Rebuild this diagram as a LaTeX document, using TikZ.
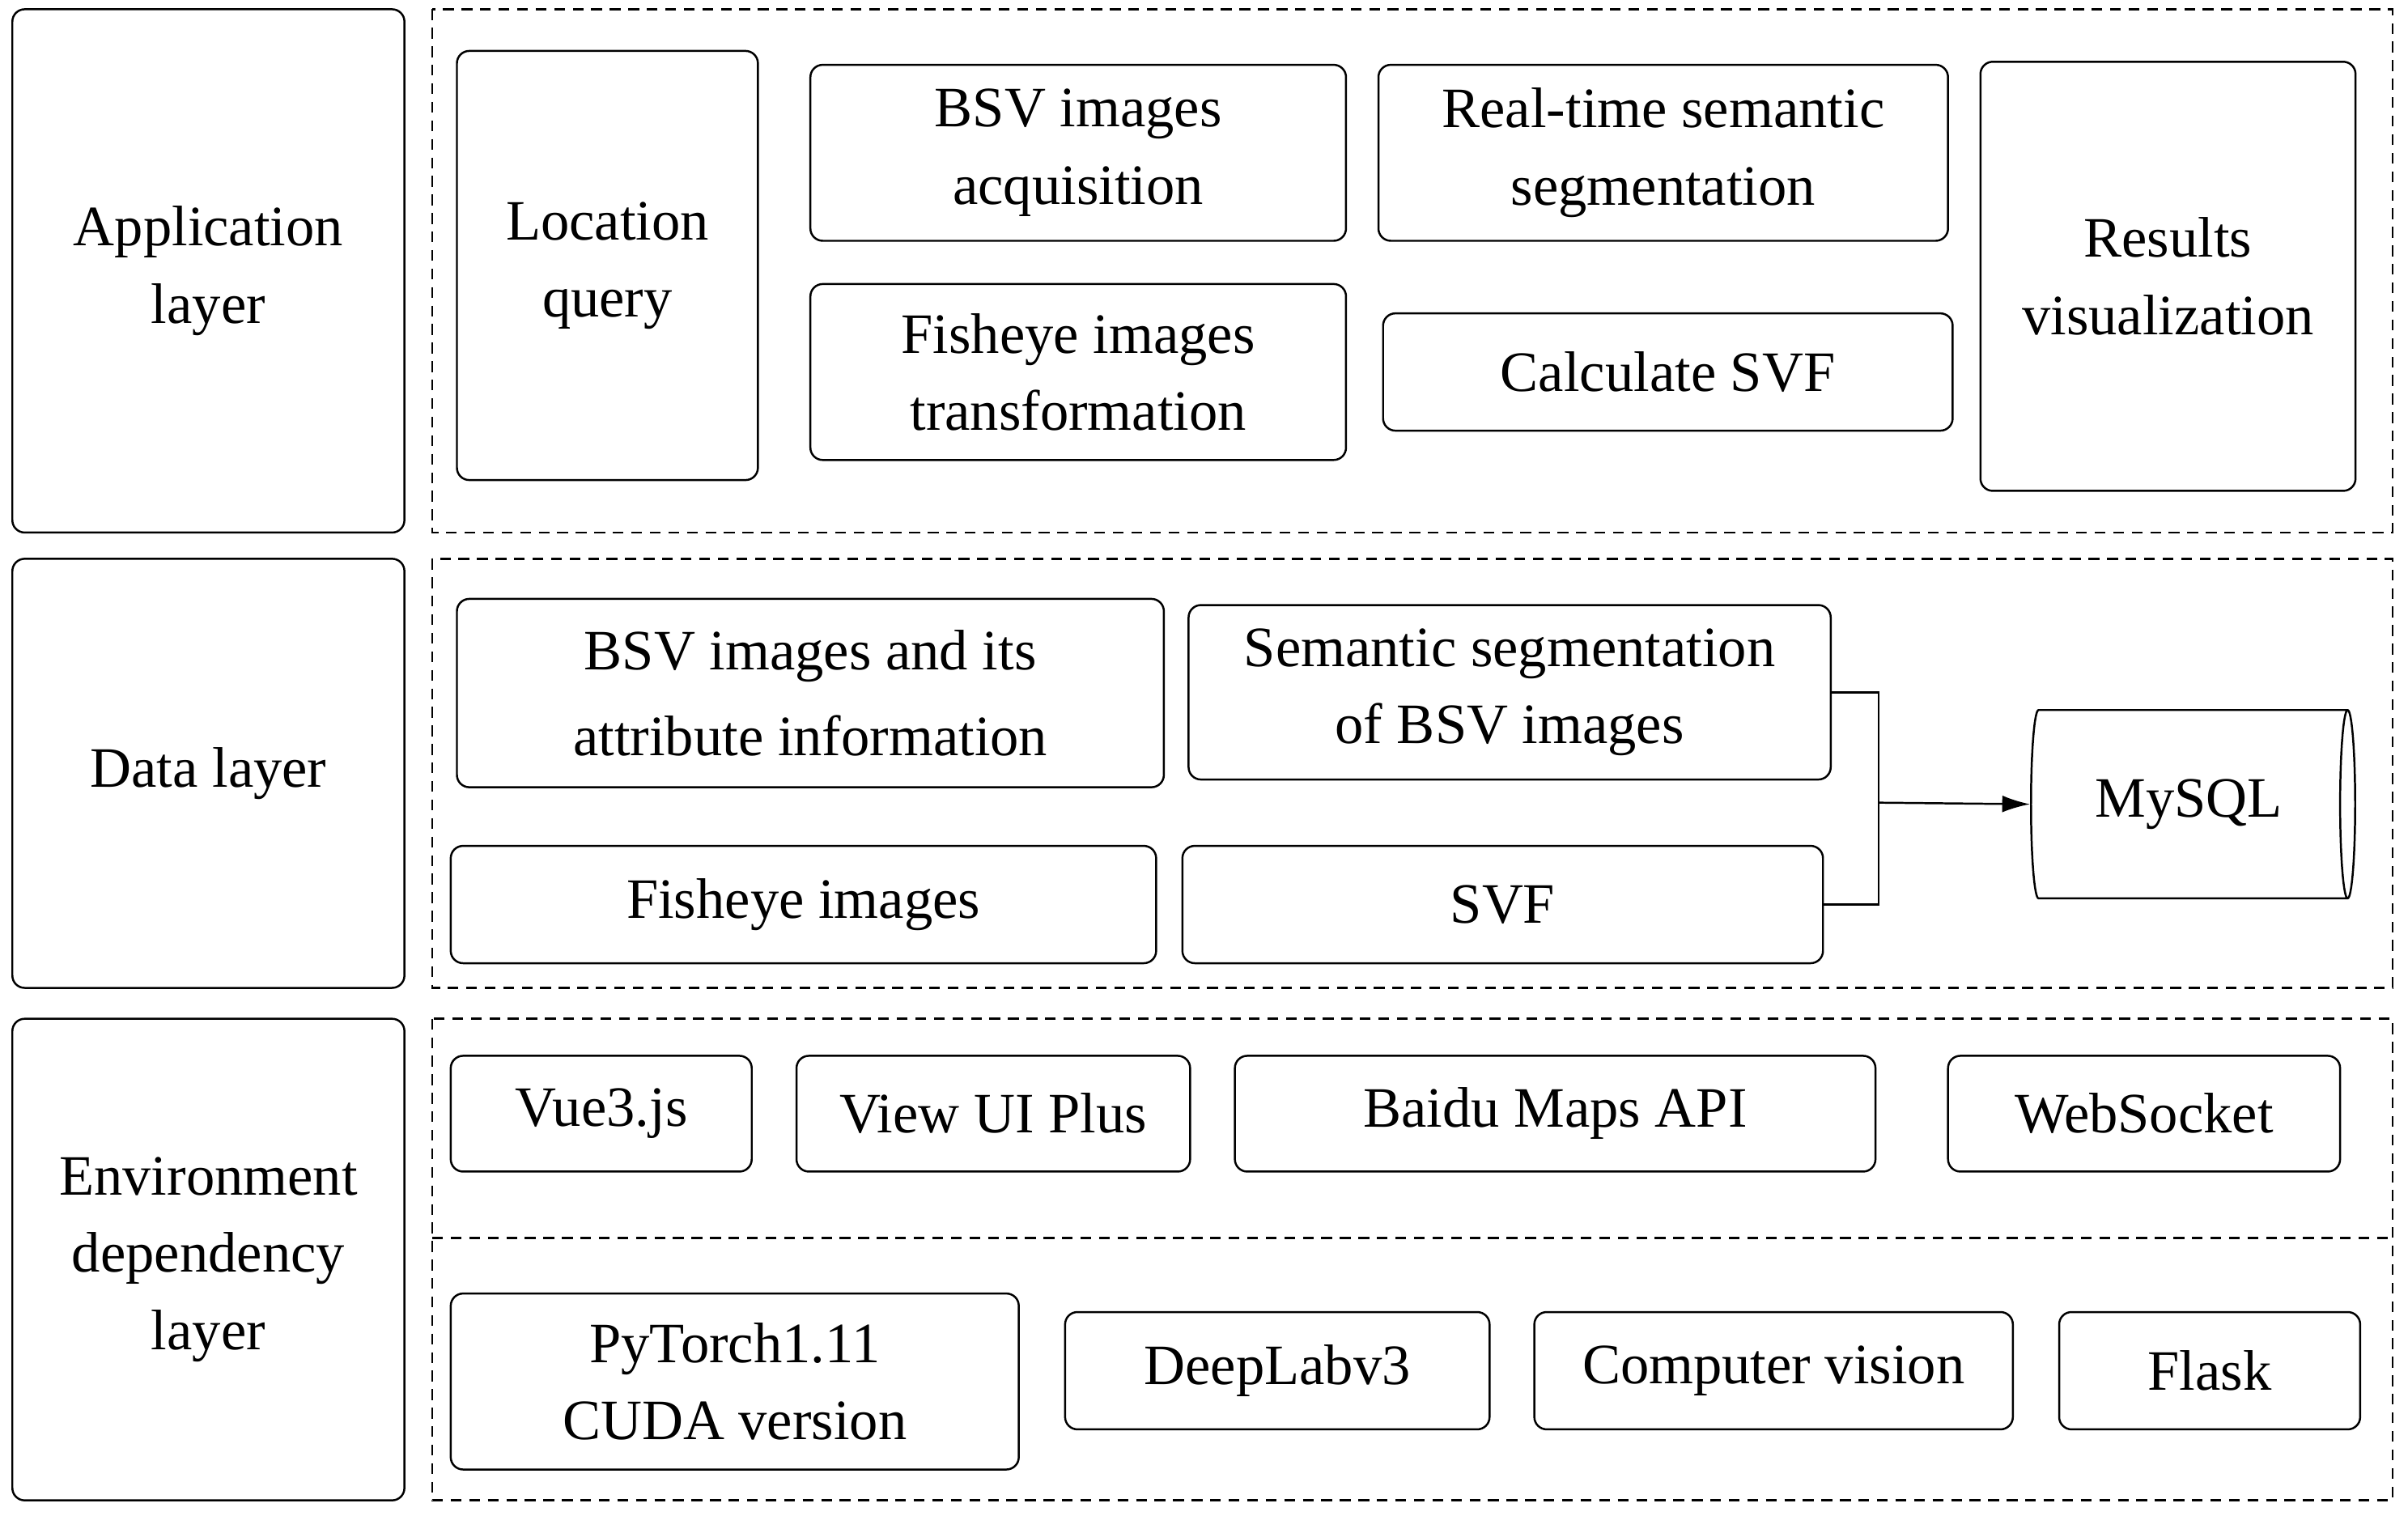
\documentclass[tikz,border=0pt]{standalone}
\usepackage{fontspec}
\setmainfont{Liberation Serif}
\usetikzlibrary{shapes.geometric,arrows.meta}
\begin{document}
\begin{tikzpicture}[x=1pt,y=-1pt,
  bx/.style={draw,rounded corners=8pt,line width=1.3pt,align=center,font=\fontsize{37}{50}\selectfont,inner sep=0pt},
  dsh/.style={draw,dashed,line width=1.3pt,dash pattern=on 7pt off 5pt}]
\useasboundingbox (0,0) rectangle (1560,982);
\newcommand{\bx}[6]{\node[bx,minimum width={#4-#2},minimum height={#5-#3}] (#1) at ({(#2+#4)/2},{(#3+#5)/2}) {#6};}
\bx{al}{8}{6}{262}{345}{Application\\layer}
\bx{dl}{8}{362}{262}{640}{Data layer}
\bx{el}{8}{660}{262}{972}{Environment\\dependency\\layer}
\draw[dsh] (280,6) rectangle (1550,345);
\draw[dsh] (280,362) rectangle (1550,640);
\draw[dsh] (280,660) rectangle (1550,972);
\draw[dsh] (280,802) -- (1550,802);
\bx{lq}{296}{33}{491}{311}{Location\\query}
\bx{bsv}{525}{42}{872}{156}{BSV images\\acquisition}
\bx{fit}{525}{184}{872}{298}{Fisheye images\\transformation}
\bx{rts}{893}{42}{1262}{156}{Real-time semantic\\segmentation}
\bx{csvf}{896}{203}{1265}{279}{Calculate SVF}
\bx{rv}{1283}{40}{1526}{318}{Results\\visualization}
\bx{bai}{296}{388}{754}{510}{BSV images and its\\[6pt]attribute information}
\bx{ssb}{770}{392}{1186}{505}{Semantic segmentation\\of BSV images}
\bx{fi}{292}{548}{749}{624}{Fisheye images}
\bx{svf}{766}{548}{1181}{624}{SVF}
\node[cylinder,draw,line width=1.3pt,minimum width=122pt,minimum height=210pt,shape aspect=0.3,inner sep=0pt,font=\fontsize{37}{50}\selectfont] (db) at (1418,521) {MySQL};
\coordinate (j) at (1217,520);
\draw[line width=1.3pt] (ssb.east) -| (j) |- (svf.east);
\draw[line width=1.3pt,-{Latex[length=18pt,width=11pt]}] (j) -- (db.west);
\bx{vue}{292}{684}{487}{759}{Vue3.js}
\bx{vui}{516}{684}{771}{759}{View UI Plus}
\bx{bm}{800}{684}{1215}{759}{Baidu Maps API}
\bx{ws}{1262}{684}{1516}{759}{WebSocket}
\bx{pt}{292}{838}{660}{952}{PyTorch1.11\\CUDA version}
\bx{dlv}{690}{850}{965}{926}{DeepLabv3}
\bx{cv}{994}{850}{1304}{926}{Computer vision}
\bx{fl}{1334}{850}{1529}{926}{Flask}
\end{tikzpicture}
\end{document}
